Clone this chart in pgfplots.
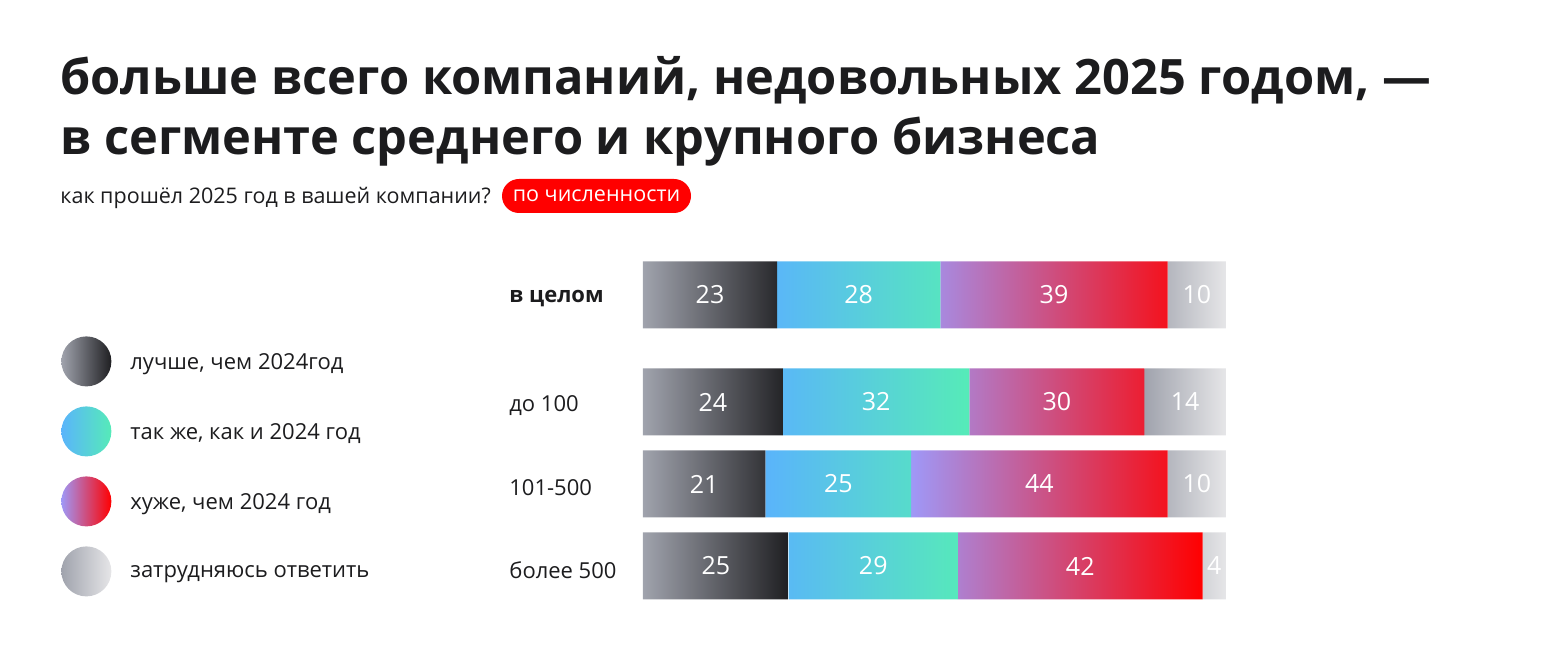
\documentclass[border=0pt]{standalone}
\usepackage{pgfplots}
\pgfplotsset{compat=1.18}
\usepackage{fontspec}
\setmainfont{Open Sans}

\definecolor{ink}{HTML}{1C1C1E}
\definecolor{graya}{HTML}{A0A3AD}
\definecolor{grayb}{HTML}{1F1F22}
\definecolor{bluea}{HTML}{5AB4FB}
\definecolor{blueb}{HTML}{56EBB8}
\definecolor{viola}{HTML}{9F98F7}
\definecolor{redb}{HTML}{FF0000}
\definecolor{lighta}{HTML}{A0A3AD}
\definecolor{lightb}{HTML}{E6E6E8}

% shares, %, one row per segment of companies
\pgfplotstableread{
y     a  b  c  d
-295  23 28 39 10
-402  24 32 30 14
-484  21 25 44 10
-566  25 29 42 4
}\shares

\newcommand{\legdot}[2]{\shade[left color=#1, right color=#2] (12.5pt,1pt) circle (12.5pt);}

\begin{document}
\begin{tikzpicture}
\path[use as bounding box] (0,0) rectangle (780pt,324pt);

\node[anchor=base west, inner sep=0pt, text=ink,
      font=\fontsize{24.4}{30}\selectfont\bfseries] at (30pt,276.5pt)
  {больше всего компаний, недовольных 2025 годом, —};
\node[anchor=base west, inner sep=0pt, text=ink,
      font=\fontsize{24.4}{30}\selectfont\bfseries] at (30pt,246.5pt)
  {в сегменте среднего и крупного бизнеса};
\node[anchor=base west, inner sep=0pt, text=ink,
      font=\fontsize{10.75}{12}\selectfont] at (30pt,222pt)
  {как прошёл 2025 год в вашей компании?};
\node[fill=red, text=white, rounded corners=8.5pt, minimum height=17pt,
      minimum width=94.5pt, inner sep=0pt,
      font=\fontsize{10.75}{12}\selectfont] at (298.25pt,226pt) {по численности};

\begin{axis}[
    at={(321.5pt,24pt)}, anchor=south west,
    scale only axis,
    width=291.5pt, height=169.25pt,
    xbar stacked,
    bar width=67,
    xmin=0, xmax=100,
    ymin=-600, ymax=-261.5,
    clip=false,
    axis line style={draw=none},
    tick style={draw=none},
    xtick=\empty,
    ytick={-566,-484,-402,-295},
    yticklabels={более 500, 101-500, до 100, \textbf{в целом}},
    yticklabel style={anchor=west, inner sep=0pt, xshift=-67pt, yshift=-2pt,
                      font=\fontsize{11}{13}\selectfont, text=ink},
    /pgf/number format/assume math mode=true,
    nodes near coords,
    every node near coord/.append style={text=white,
      font=\fontsize{12.5}{14}\selectfont},
    legend style={
      at={(axis description cs:-0.9983,0.7799)}, anchor=north west,
      draw=none, fill=none, inner sep=0pt,
      row sep=10pt, column sep=7.5pt,
      font=\fontsize{11}{13}\selectfont, text=ink,
    },
    legend cell align=left,
  ]
  \addplot[draw=none, left color=graya, right color=grayb,
           legend image code/.code={\legdot{graya}{grayb}}]
    table[x=a, y=y] {\shares};
  \addlegendentry{лучше, чем 2024год}
  \addplot[draw=none, left color=bluea, right color=blueb,
           legend image code/.code={\legdot{bluea}{blueb}}]
    table[x=b, y=y] {\shares};
  \addlegendentry{так же, как и 2024 год}
  \addplot[draw=none, left color=viola, right color=redb,
           legend image code/.code={\legdot{viola}{redb}}]
    table[x=c, y=y] {\shares};
  \addlegendentry{хуже, чем 2024 год}
  \addplot[draw=none, left color=lighta, right color=lightb,
           legend image code/.code={\legdot{lighta}{lightb}}]
    table[x=d, y=y] {\shares};
  \addlegendentry{затрудняюсь ответить}
\end{axis}
\end{tikzpicture}
\end{document}
